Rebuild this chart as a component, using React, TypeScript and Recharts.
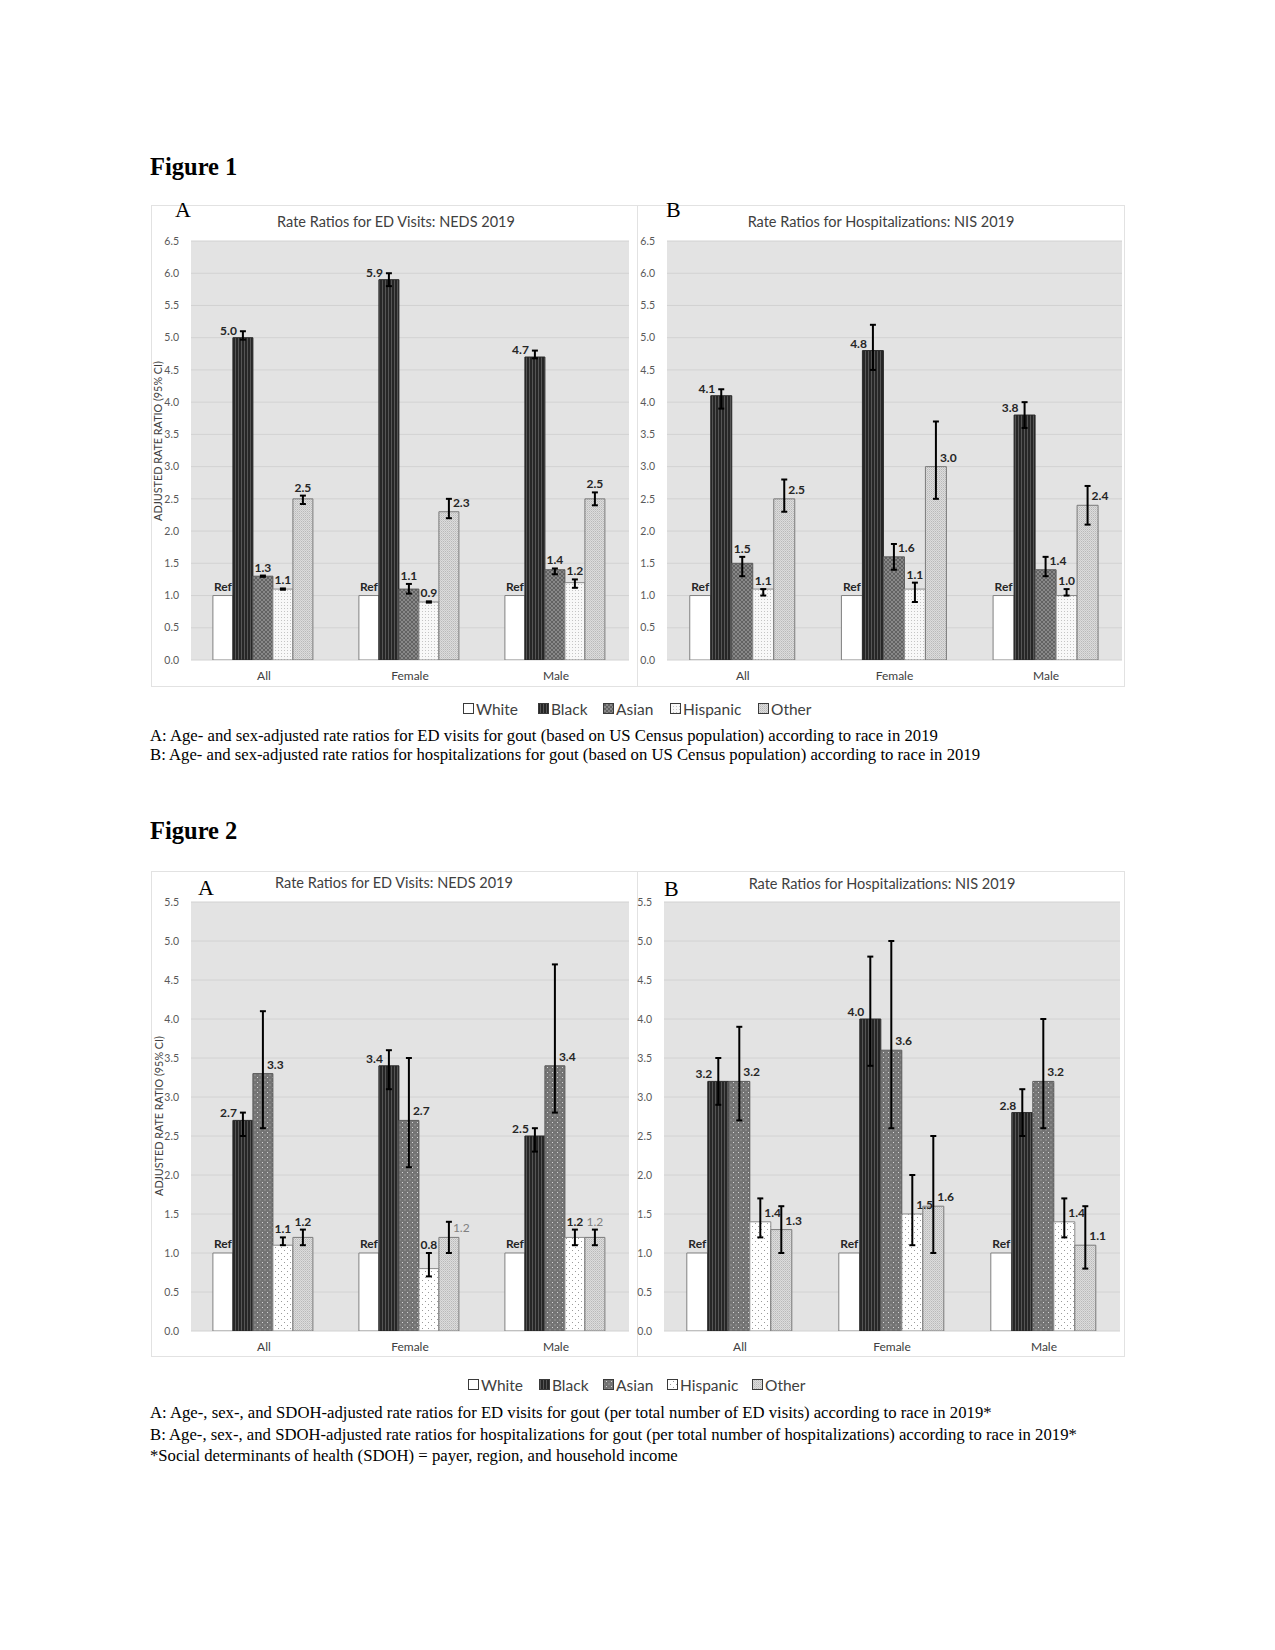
import React from 'react';
import { BarChart, Bar, XAxis, YAxis, CartesianGrid, ErrorBar, LabelList } from 'recharts';

// ---------- data ----------
const categories = ['All', 'Female', 'Male'];
const raceNames = ['White', 'Black', 'Asian', 'Hispanic', 'Other'];
const raceKeys = ['white', 'black', 'asian', 'hispanic', 'other'];

const fig1Ticks = [0, 0.5, 1, 1.5, 2, 2.5, 3, 3.5, 4, 4.5, 5, 5.5, 6, 6.5];
const fig2Ticks = [0, 0.5, 1, 1.5, 2, 2.5, 3, 3.5, 4, 4.5, 5, 5.5];

// White is the reference group (rate ratio 1.0)
const whiteRef = [1, 1, 1];

// Figure 1A: ED visits, NEDS 2019
const f1aBlack = [5.0, 5.9, 4.7];
const f1aAsian = [1.3, 1.1, 1.4];
const f1aHispanic = [1.1, 0.9, 1.2];
const f1aOther = [2.5, 2.3, 2.5];
const f1aBlackCI = [[4.97, 5.1], [5.8, 6.0], [4.68, 4.8]];
const f1aAsianCI = [[1.29, 1.31], [1.03, 1.18], [1.33, 1.42]];
const f1aHispanicCI = [[1.09, 1.11], [0.89, 0.91], [1.12, 1.25]];
const f1aOtherCI = [[2.42, 2.55], [2.2, 2.5], [2.4, 2.6]];

// Figure 1B: hospitalizations, NIS 2019
const f1bBlack = [4.1, 4.8, 3.8];
const f1bAsian = [1.5, 1.6, 1.4];
const f1bHispanic = [1.1, 1.1, 1.0];
const f1bOther = [2.5, 3.0, 2.4];
const f1bBlackCI = [[3.9, 4.2], [4.5, 5.2], [3.6, 4.0]];
const f1bAsianCI = [[1.3, 1.6], [1.4, 1.8], [1.3, 1.6]];
const f1bHispanicCI = [[1.0, 1.1], [0.9, 1.2], [1.0, 1.1]];
const f1bOtherCI = [[2.3, 2.8], [2.5, 3.7], [2.1, 2.7]];

// Figure 2A: ED visits, NEDS 2019 (SDOH-adjusted)
const f2aBlack = [2.7, 3.4, 2.5];
const f2aAsian = [3.3, 2.7, 3.4];
const f2aHispanic = [1.1, 0.8, 1.2];
const f2aOther = [1.2, 1.2, 1.2];
const f2aBlackCI = [[2.5, 2.8], [3.1, 3.6], [2.3, 2.6]];
const f2aAsianCI = [[2.6, 4.1], [2.1, 3.5], [2.8, 4.7]];
const f2aHispanicCI = [[1.1, 1.2], [0.7, 1.0], [1.1, 1.3]];
const f2aOtherCI = [[1.1, 1.3], [1.0, 1.4], [1.1, 1.3]];

// Figure 2B: hospitalizations, NIS 2019 (SDOH-adjusted)
const f2bBlack = [3.2, 4.0, 2.8];
const f2bAsian = [3.2, 3.6, 3.2];
const f2bHispanic = [1.4, 1.5, 1.4];
const f2bOther = [1.3, 1.6, 1.1];
const f2bBlackCI = [[2.9, 3.5], [3.4, 4.8], [2.5, 3.1]];
const f2bAsianCI = [[2.7, 3.9], [2.6, 5.0], [2.6, 4.0]];
const f2bHispanicCI = [[1.2, 1.7], [1.1, 2.0], [1.2, 1.7]];
const f2bOtherCI = [[1.0, 1.6], [1.0, 2.5], [0.8, 1.6]];

// ---------- label placement (style) ----------
type Place = 'L' | 'T' | 'R';
const f1aPlace: Record<string, Place[]> = { black: ['L', 'L', 'L'], asian: ['T', 'T', 'T'], hispanic: ['T', 'T', 'T'], other: ['T', 'R', 'T'] };
const f1bPlace: Record<string, Place[]> = { black: ['L', 'L', 'L'], asian: ['T', 'R', 'R'], hispanic: ['T', 'T', 'T'], other: ['R', 'R', 'R'] };
const f2aPlace: Record<string, Place[]> = { black: ['L', 'L', 'L'], asian: ['R', 'R', 'R'], hispanic: ['T', 'T', 'T'], other: ['T', 'R', 'T'] };
const f2bPlace: Record<string, Place[]> = { black: ['L', 'L', 'L'], asian: ['R', 'R', 'R'], hispanic: ['R', 'R', 'R'], other: ['R', 'R', 'R'] };
const f2aMuted: Record<string, boolean[]> = { other: [false, true, true] };

const FONT = "Lato, 'Open Sans', 'DejaVu Sans', sans-serif";
const SERIF = "'Liberation Serif', 'Times New Roman', serif";

function buildRows(vals: number[][], cis: (number[][] | null)[]) {
  return categories.map((cat, i) => {
    const r: any = { cat };
    raceKeys.forEach((k, s) => {
      r[k] = vals[s][i];
      const ci = cis[s];
      if (ci) {
        r[k + 'Lo'] = ci[i][0];
        r[k + 'Hi'] = ci[i][1];
      }
    });
    return r;
  });
}

const rows1a = buildRows([whiteRef, f1aBlack, f1aAsian, f1aHispanic, f1aOther], [null, f1aBlackCI, f1aAsianCI, f1aHispanicCI, f1aOtherCI]);
const rows1b = buildRows([whiteRef, f1bBlack, f1bAsian, f1bHispanic, f1bOther], [null, f1bBlackCI, f1bAsianCI, f1bHispanicCI, f1bOtherCI]);
const rows2a = buildRows([whiteRef, f2aBlack, f2aAsian, f2aHispanic, f2aOther], [null, f2aBlackCI, f2aAsianCI, f2aHispanicCI, f2aOtherCI]);
const rows2b = buildRows([whiteRef, f2bBlack, f2bAsian, f2bHispanic, f2bOther], [null, f2bBlackCI, f2bAsianCI, f2bHispanicCI, f2bOtherCI]);

// ---------- patterns ----------
function Patterns({ id, fig2 }: { id: string; fig2: boolean }) {
  return (
    <defs>
      <pattern id={`${id}-white`} width="4" height="4" patternUnits="userSpaceOnUse">
        <rect width="4" height="4" fill="#ffffff" />
      </pattern>
      <pattern id={`${id}-black`} width="3" height="3" patternUnits="userSpaceOnUse">
        <rect width="3" height="3" fill="#262626" />
        <rect width="1" height="3" fill="#555555" />
      </pattern>
      {fig2 ? (
        <pattern id={`${id}-asian`} width="5" height="5" patternUnits="userSpaceOnUse">
          <rect width="5" height="5" fill="#747474" />
          <rect x="1" y="1" width="1" height="1" fill="#d6d6d6" />
          <rect x="3.5" y="3.5" width="1" height="1" fill="#b8b8b8" />
        </pattern>
      ) : (
        <pattern id={`${id}-asian`} width="4" height="4" patternUnits="userSpaceOnUse">
          <rect width="4" height="4" fill="#888888" />
          <rect width="2" height="2" fill="#626262" />
          <rect x="2" y="2" width="2" height="2" fill="#626262" />
        </pattern>
      )}
      {fig2 ? (
        <pattern id={`${id}-hispanic`} width="6" height="6" patternUnits="userSpaceOnUse">
          <rect width="6" height="6" fill="#ffffff" />
          <rect x="1" y="1" width="1" height="1" fill="#9a9a9a" />
          <rect x="4" y="4" width="1" height="1" fill="#9a9a9a" />
        </pattern>
      ) : (
        <pattern id={`${id}-hispanic`} width="3" height="3" patternUnits="userSpaceOnUse">
          <rect width="3" height="3" fill="#f8f8f8" />
          <rect x="1" y="1" width="1" height="1" fill="#c4c4c4" />
        </pattern>
      )}
      <pattern id={`${id}-other`} width="2" height="2" patternUnits="userSpaceOnUse">
        <rect width="2" height="2" fill="#dcdcdc" />
        <rect width="1" height="1" fill="#b9b9b9" />
        <rect x="1" y="1" width="1" height="1" fill="#c9c9c9" />
      </pattern>
    </defs>
  );
}

const strokeFor: Record<string, string> = {
  white: '#808080',
  black: '#2a2a2a',
  asian: '#5a5a5a',
  hispanic: '#8a8a8a',
  other: '#7a7a7a',
};

function makeLabel(rows: any[], key: string, places: Record<string, Place[]>, muted?: Record<string, boolean[]>) {
  return (p: any) => {
    const vb = p.viewBox || {};
    const x = Number(vb.x ?? p.x);
    const y = Number(vb.y ?? p.y);
    const w = Number(vb.width ?? p.width);
    const h = Number(vb.height ?? p.height);
    const i = p.index ?? 0;
    const row = rows[i];
    if (!row) return null;
    const v = row[key];
    const cx = x + w / 2;
    let text = 'Ref';
    let anchor: 'start' | 'middle' | 'end' = 'middle';
    let tx = cx;
    let ty = y - 5;
    if (key !== 'white') {
      text = v.toFixed(1);
      const place = places[key] ? places[key][i] : 'T';
      const k = h / v;
      const yHi = y + h - row[key + 'Hi'] * k;
      if (place === 'L') {
        anchor = 'end';
        tx = cx - 6;
        ty = y - 3;
      } else if (place === 'R') {
        anchor = 'start';
        tx = cx + 4;
        ty = y - 5;
      } else {
        ty = Math.min(y, yHi) - 4;
      }
    }
    const isMuted = muted && muted[key] ? muted[key][i] : false;
    return (
      <text
        key={`${key}-${i}`}
        x={tx}
        y={ty}
        textAnchor={anchor}
        fontSize={12}
        fontWeight={isMuted ? 400 : 700}
        fill={isMuted ? '#808080' : '#262626'}
        fontFamily={FONT}
      >
        {text}
      </text>
    );
  };
}

type ChartProps = {
  id: string;
  rows: any[];
  ticks: number[];
  max: number;
  width: number;
  height: number;
  margin: { top: number; right: number; bottom: number; left: number };
  yWidth: number;
  places: Record<string, Place[]>;
  muted?: Record<string, boolean[]>;
  fig2: boolean;
};

function RatioChart(props: ChartProps) {
  const { id, rows, ticks, max, width, height, margin, yWidth, places, muted, fig2 } = props;
  return (
    <BarChart width={width} height={height} data={rows} margin={margin} barGap={0} barCategoryGap="15%">
      <Patterns id={id} fig2={fig2} />
      <CartesianGrid vertical={false} fill="#e3e3e3" stroke="#d2d2d2" />
      <XAxis
        dataKey="cat"
        axisLine={false}
        tickLine={false}
        tickSize={6}
        tickMargin={5}
        height={20}
        interval={0}
        tick={{ fontSize: 12, fill: '#404040', fontFamily: FONT }}
      />
      <YAxis
        type="number"
        domain={[0, max]}
        ticks={ticks}
        interval={0}
        allowDataOverflow
        axisLine={false}
        tickLine={false}
        tickSize={6}
        tickMargin={6}
        width={yWidth}
        tickFormatter={(v: number) => v.toFixed(1)}
        tick={{ fontSize: 10.5, fill: '#595959', fontFamily: FONT }}
      />
      {raceKeys.map((k) => (
        <Bar
          key={k}
          dataKey={k}
          name={raceNames[raceKeys.indexOf(k)]}
          fill={`url(#${id}-${k})`}
          stroke={strokeFor[k]}
          strokeWidth={1}
          isAnimationActive={false}
        >
          {k !== 'white' ? (
            <ErrorBar
              dataKey={(d: any) => [d[k] - d[k + 'Lo'], d[k + 'Hi'] - d[k]]}
              width={3}
              stroke="#000000"
              strokeWidth={2}
              direction="y"
              isAnimationActive={false}
            />
          ) : null}
          <LabelList dataKey={k} content={makeLabel(rows, k, places, muted)} />
        </Bar>
      ))}
    </BarChart>
  );
}

// ---------- page layout ----------
const legendItems = [
  { key: 'white', label: 'White' },
  { key: 'black', label: 'Black' },
  { key: 'asian', label: 'Asian' },
  { key: 'hispanic', label: 'Hispanic' },
  { key: 'other', label: 'Other' },
];
const legend1X = [463, 538, 603, 670, 758];
const legend2X = [468, 539, 603, 667, 752];

function Legend({ y, xs, id, fig2 }: { y: number; xs: number[]; id: string; fig2: boolean }) {
  return (
    <g>
      {legendItems.map((it, i) => (
        <g key={it.key}>
          <rect x={xs[i] + 0.5} y={y - 5.5} width={10} height={10} fill={`url(#${id}-${it.key})`} stroke="#3a3a3a" strokeWidth={1} />
          <text x={xs[i] + 13} y={y + 5.5} fontSize={15.5} fill="#404040" fontFamily={FONT}>
            {it.label}
          </text>
        </g>
      ))}
    </g>
  );
}

const boxStyle = (left: number, top: number, width: number, height: number, noLeft = false): React.CSSProperties => ({
  position: 'absolute',
  left,
  top,
  width,
  height,
  boxSizing: 'border-box',
  border: '1px solid #e2e2e2',
  borderLeft: noLeft ? 'none' : '1px solid #e2e2e2',
});

export default function App() {
  return (
    <div style={{ position: 'absolute', left: 0, top: 0, width: 1275, height: 1650, background: '#ffffff' }}>
      <div style={boxStyle(151, 205, 487, 482)} />
      <div style={boxStyle(638, 205, 487, 482, true)} />
      <div style={boxStyle(151, 871, 487, 486)} />
      <div style={boxStyle(638, 871, 487, 486, true)} />

      <div style={{ position: 'absolute', left: 151, top: 205 }}>
        <RatioChart id="c1a" rows={rows1a} ticks={fig1Ticks} max={6.5} width={486} height={482}
          margin={{ top: 36, right: 8, bottom: 7, left: 0 }} yWidth={40} places={f1aPlace} fig2={false} />
      </div>
      <div style={{ position: 'absolute', left: 637, top: 205 }}>
        <RatioChart id="c1b" rows={rows1b} ticks={fig1Ticks} max={6.5} width={487} height={482}
          margin={{ top: 36, right: 2, bottom: 7, left: 0 }} yWidth={30} places={f1bPlace} fig2={false} />
      </div>
      <div style={{ position: 'absolute', left: 151, top: 871 }}>
        <RatioChart id="c2a" rows={rows2a} ticks={fig2Ticks} max={5.5} width={486} height={486}
          margin={{ top: 31, right: 8, bottom: 6, left: 0 }} yWidth={40} places={f2aPlace} muted={f2aMuted} fig2={true} />
      </div>
      <div style={{ position: 'absolute', left: 637, top: 871 }}>
        <RatioChart id="c2b" rows={rows2b} ticks={fig2Ticks} max={5.5} width={487} height={486}
          margin={{ top: 31, right: 4, bottom: 6, left: 0 }} yWidth={27} places={f2bPlace} fig2={true} />
      </div>

      <svg width={1275} height={1650} style={{ position: 'absolute', left: 0, top: 0, pointerEvents: 'none' }}>
        <Patterns id="lg1" fig2={false} />
        <Patterns id="lg2" fig2={true} />

        <text x={150} y={175} fontSize={24.5} fontWeight={700} fontFamily={SERIF} fill="#000">Figure 1</text>
        <text x={175} y={217} fontSize={22} fontFamily={SERIF} fill="#000">A</text>
        <text x={666} y={217} fontSize={22} fontFamily={SERIF} fill="#000">B</text>
        <text x={396} y={227} fontSize={14.5} textAnchor="middle" fontFamily={FONT} fill="#404040">Rate Ratios for ED Visits: NEDS 2019</text>
        <text x={881} y={227} fontSize={14.5} textAnchor="middle" fontFamily={FONT} fill="#404040">Rate Ratios for Hospitalizations: NIS 2019</text>
        <text transform="translate(162,441) rotate(-90)" fontSize={10.8} textAnchor="middle" fontFamily={FONT} fill="#404040">ADJUSTED RATE RATIO (95% CI)</text>

        <Legend y={709} xs={legend1X} id="lg1" fig2={false} />
        <text x={150} y={741} fontSize={16.7} fontFamily={SERIF} fill="#000">A: Age- and sex-adjusted rate ratios for ED visits for gout (based on US Census population) according to race in 2019</text>
        <text x={150} y={760} fontSize={16.7} fontFamily={SERIF} fill="#000">B: Age- and sex-adjusted rate ratios for hospitalizations for gout (based on US Census population) according to race in 2019</text>

        <text x={150} y={839} fontSize={24.5} fontWeight={700} fontFamily={SERIF} fill="#000">Figure 2</text>
        <text x={198} y={895} fontSize={22} fontFamily={SERIF} fill="#000">A</text>
        <text x={664} y={896} fontSize={22} fontFamily={SERIF} fill="#000">B</text>
        <text x={394} y={888} fontSize={14.5} textAnchor="middle" fontFamily={FONT} fill="#404040">Rate Ratios for ED Visits: NEDS 2019</text>
        <text x={882} y={889} fontSize={14.5} textAnchor="middle" fontFamily={FONT} fill="#404040">Rate Ratios for Hospitalizations: NIS 2019</text>
        <text transform="translate(163,1116) rotate(-90)" fontSize={10.8} textAnchor="middle" fontFamily={FONT} fill="#404040">ADJUSTED RATE RATIO (95% CI)</text>

        <Legend y={1385} xs={legend2X} id="lg2" fig2={true} />
        <text x={150} y={1418} fontSize={16.7} fontFamily={SERIF} fill="#000">A: Age-, sex-, and SDOH-adjusted rate ratios for ED visits for gout (per total number of ED visits) according to race in 2019*</text>
        <text x={150} y={1440} fontSize={16.7} fontFamily={SERIF} fill="#000">B: Age-, sex-, and SDOH-adjusted rate ratios for hospitalizations for gout (per total number of hospitalizations) according to race in 2019*</text>
        <text x={150} y={1461} fontSize={16.7} fontFamily={SERIF} fill="#000">*Social determinants of health (SDOH) = payer, region, and household income</text>
      </svg>
    </div>
  );
}
